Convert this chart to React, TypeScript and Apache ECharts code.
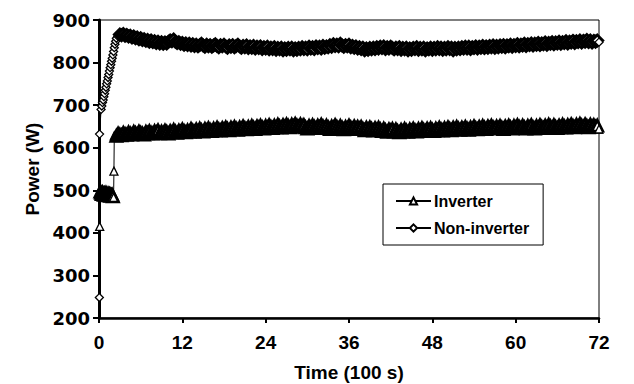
import React, { useEffect, useRef } from "react";
import * as echarts from "echarts";

// Time in units of 100 s
const xTicks = [0, 12, 24, 36, 48, 60, 72];

// Start-up transients (time, power)
const invStartTime = [0.1, 0.12, 0.2, 0.3, 0.4, 0.5, 0.6, 0.7, 0.8, 0.9, 1.0, 1.1, 1.2, 1.3, 1.4, 1.5, 1.6, 1.7, 1.8, 1.9, 2.0, 2.1, 2.15, 2.2];
const invStartPower = [415, 500, 497, 494, 491, 495, 492, 489, 493, 490, 494, 491, 488, 492, 489, 491, 487, 490, 488, 489, 486, 483, 545, 628];
const invStartDense = [2, 20]; // index range of the overlapping cluster near 490 W

const nonStartTime = [0.05, 0.08, 0.3, 0.4, 0.5, 0.6, 0.7, 0.8, 0.9, 1.0, 1.1, 1.2, 1.3, 1.4, 1.5, 1.6, 1.7, 1.8, 1.9, 2.0, 2.1, 2.2, 2.3, 2.4, 2.5, 2.7];
const nonStartPower = [248, 632, 690, 698, 706, 712, 720, 727, 735, 742, 750, 757, 765, 772, 780, 788, 795, 803, 810, 818, 826, 835, 843, 850, 857, 862];
const nonStartDense = [-1, -1];

// Steady part, one sample every 0.25 (x 100 s)
const sampleStep = 0.25;
const invSteadyStart = 2.5;
const invSteadyPower = [
  628, 633, 631, 629, 635, 632, 630, 636, 633, 631, 637, 634, 632, 638, 635, 633, 631, 637, 634, 639,
  635, 633, 639, 636, 641, 634, 638, 635, 640, 637, 633, 639, 636, 642, 638, 635, 640, 637, 643, 639,
  636, 641, 638, 644, 640, 637, 643, 639, 645, 641, 638, 644, 640, 646, 642, 639, 645, 641, 647, 643,
  640, 646, 643, 648, 644, 641, 647, 643, 649, 645, 642, 648, 644, 650, 646, 643, 649, 645, 651, 647,
  644, 650, 647, 652, 648, 645, 651, 647, 653, 649, 646, 652, 648, 654, 650, 647, 653, 649, 655, 651,
  648, 654, 650, 656, 652, 649, 655, 651, 653, 648, 645, 651, 647, 653, 649, 646, 652, 648, 654, 650,
  646, 652, 648, 644, 650, 647, 653, 649, 645, 651, 647, 643, 649, 646, 652, 648, 644, 650, 646, 649,
  645, 649, 644, 641, 647, 643, 648, 644, 640, 646, 642, 647, 643, 639, 645, 641, 637, 643, 640, 644,
  638, 643, 639, 636, 642, 638, 644, 640, 637, 643, 639, 645, 641, 638, 644, 640, 646, 642, 639, 645,
  641, 646, 642, 639, 645, 641, 647, 643, 640, 646, 642, 648, 644, 641, 647, 643, 649, 645, 642, 647,
  643, 649, 645, 642, 648, 644, 650, 646, 643, 649, 645, 651, 647, 644, 650, 646, 652, 648, 645, 650,
  646, 651, 647, 644, 650, 646, 652, 648, 645, 651, 647, 653, 649, 646, 652, 648, 645, 651, 647, 653,
  648, 645, 651, 647, 653, 649, 646, 652, 648, 654, 650, 647, 653, 649, 646, 652, 648, 654, 650, 647,
  653, 649, 655, 651, 648, 654, 650, 656, 652, 649, 655, 651, 648, 654, 650, 653, 649, 652, 644,
];
const nonSteadyStart = 3.0;
const nonSteadyPower = [
  866, 864, 867, 863, 865, 861, 863, 859, 861, 857, 859, 855, 857, 853, 855, 851, 853, 849, 852, 848,
  850, 846, 849, 845, 848, 844, 847, 845, 849, 852, 850, 854, 849, 846, 848, 844, 846, 842, 845, 841,
  844, 840, 843, 839, 842, 838, 841, 844, 840, 837, 842, 838, 841, 837, 840, 843, 839, 836, 841, 838,
  842, 838, 835, 840, 837, 841, 836, 839, 842, 838, 835, 839, 836, 840, 834, 838, 835, 839, 833, 837,
  834, 838, 832, 836, 833, 837, 831, 835, 832, 836, 830, 834, 831, 835, 829, 833, 830, 834, 831, 835,
  829, 833, 830, 834, 831, 836, 832, 835, 831, 837, 833, 836, 832, 838, 834, 837, 833, 839, 835, 838,
  836, 841, 837, 843, 839, 842, 838, 844, 840, 837, 841, 838, 842, 836, 839, 835, 838, 833, 836, 832,
  835, 829, 833, 830, 834, 831, 835, 832, 836, 833, 837, 834, 838, 832, 836, 833, 837, 834, 831, 835,
  832, 836, 830, 834, 831, 835, 829, 833, 830, 834, 832, 836, 830, 834, 831, 835, 829, 833, 831, 835,
  830, 834, 831, 836, 832, 835, 830, 834, 831, 836, 832, 835, 829, 834, 831, 835, 832, 836, 833, 837,
  833, 837, 832, 836, 834, 838, 833, 837, 835, 839, 834, 838, 835, 839, 836, 840, 835, 839, 836, 840,
  837, 841, 836, 840, 838, 842, 837, 841, 839, 843, 838, 842, 840, 844, 839, 843, 841, 845, 840, 844,
  842, 846, 841, 845, 843, 847, 842, 846, 844, 848, 843, 847, 845, 849, 844, 848, 846, 850, 845, 849,
  847, 851, 846, 850, 848, 852, 847, 851, 849, 853, 848, 852, 847, 851, 849, 852, 848,
];

const denseStyle = { symbolSize: 11, itemStyle: { borderWidth: 2.8 } };

function buildSeriesData(startT: number[], startP: number[], dense: number[], steadyStart: number, steady: number[]) {
  const out: any[] = [];
  startT.forEach((t, i) => {
    const d = i >= dense[0] && i <= dense[1];
    out.push(d ? { value: [t, startP[i]], ...denseStyle } : { value: [t, startP[i]] });
  });
  steady.forEach((p, i) => {
    const last = i === steady.length - 1;
    const x = steadyStart + i * sampleStep;
    out.push(last ? { value: [x, p] } : { value: [x, p], ...denseStyle });
  });
  return out;
}

const FONT = "'Liberation Sans', Arial, sans-serif";
const WIDE = "'DejaVu Sans', sans-serif";

export default function App() {
  const ref = useRef<HTMLDivElement>(null);
  useEffect(() => {
    if (!ref.current) return;
    const chart = echarts.init(ref.current, undefined, { renderer: "svg" });
    const common = {
      type: "line" as const,
      animation: false,
      symbolSize: 8,
      showAllSymbol: true,
      lineStyle: { color: "#000", width: 1 },
      itemStyle: { color: "#fff", borderColor: "#000", borderWidth: 1.3 },
      emphasis: { disabled: true },
    };
    chart.setOption({
      animation: false,
      backgroundColor: "#fff",
      grid: {
        left: 99, right: 35, top: 20, bottom: 66,
        containLabel: false, outerBoundsMode: "none",
        show: true, borderColor: "#000", borderWidth: 1,
      },
      legend: {
        orient: "vertical",
        left: 383,
        top: 184,
        padding: [9, 14, 9, 12],
        itemGap: 11,
        itemWidth: 35,
        itemHeight: 9,
        borderColor: "#000",
        borderWidth: 1,
        data: ["Inverter", "Non-inverter"],
        textStyle: { fontFamily: FONT, fontWeight: "bold", fontSize: 16, color: "#000", padding: [0, 0, 0, -2] },
      },
      xAxis: {
        type: "value",
        min: 0,
        max: 72,
        interval: 12,
        name: "Time (100 s)",
        nameLocation: "middle",
        nameGap: 45,
        nameTextStyle: { fontFamily: FONT, fontWeight: "bold", fontSize: 19, color: "#000" },
        axisLine: { onZero: false, lineStyle: { color: "#000", width: 2.5 } },
        axisTick: { show: true, length: 5, lineStyle: { color: "#000", width: 2 } },
        axisLabel: {
          fontFamily: FONT, fontWeight: "bold", fontSize: 19, color: "#000", margin: 15,
          customValues: xTicks,
        },
        splitLine: { show: false },
      },
      yAxis: {
        type: "value",
        min: 200,
        max: 900,
        interval: 100,
        name: "Power (W)",
        nameLocation: "middle",
        nameGap: 54,
        nameTextStyle: { fontFamily: FONT, fontWeight: "bold", fontSize: 19, color: "#000" },
        axisLine: { show: true, onZero: false, lineStyle: { color: "#000", width: 3 } },
        axisTick: { show: true, length: 6, lineStyle: { color: "#000", width: 2 } },
        axisLabel: { fontFamily: WIDE, fontWeight: "bold", fontSize: 18, color: "#000", margin: 9 },
        splitLine: { show: false },
      },
      series: [
        {
          ...common,
          name: "Inverter",
          symbol: "triangle",
          data: buildSeriesData(invStartTime, invStartPower, invStartDense, invSteadyStart, invSteadyPower),
        },
        {
          ...common,
          name: "Non-inverter",
          symbol: "diamond",
          data: buildSeriesData(nonStartTime, nonStartPower, nonStartDense, nonSteadyStart, nonSteadyPower),
        },
      ],
    });
    return () => chart.dispose();
  }, []);
  return <div ref={ref} style={{ position: "fixed", left: 0, top: 0, width: 634, height: 384 }} />;
}
